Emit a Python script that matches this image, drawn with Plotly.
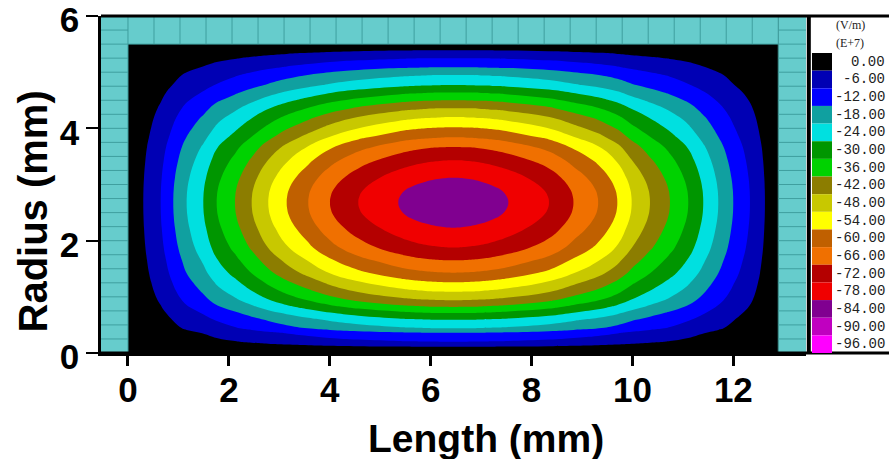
import numpy as np
import plotly.graph_objects as go

# ---------------- data ----------------
# legend levels (V/m, E+7) and their colours
levels = [0, -6, -12, -18, -24, -30, -36, -42, -48, -54, -60, -66, -72, -78, -84, -90, -96]
level_labels = ["0.00", "-6.00", "-12.00", "-18.00", "-24.00", "-30.00", "-36.00", "-42.00",
                "-48.00", "-54.00", "-60.00", "-66.00", "-72.00", "-78.00", "-84.00", "-90.00", "-96.00"]
level_colors = ["#000000", "#0000b4", "#0000ff", "#10a0a0", "#00e0e0", "#009600", "#00d200",
                "#8c7d00", "#c8c800", "#ffff00", "#c06000", "#f07000", "#b40000", "#f00000",
                "#800090", "#c000c0", "#ff00ff"]

# field along the row through the centre (r ~ 2.68 mm): position (mm) -> E
row_x = [0.0, 0.303, 0.648, 0.898, 1.163, 1.493, 1.758, 2.121, 2.452, 2.781, 3.146, 3.574,
         4.004, 4.565, 5.358, 5.62, 5.9, 6.18, 6.45, 6.72, 7.0, 7.27, 7.54, 8.345, 8.83,
         9.32, 9.70, 9.984, 10.347, 10.743, 11.106, 11.403, 11.701, 11.998, 12.329, 12.626,
         12.89]
row_e = [0, -6, -12, -18, -24, -30, -36, -42, -48, -54, -60, -66, -72, -78, -84, -85.5, -86.6,
         -87.25, -87.5, -87.25, -86.6, -85.5, -84, -78, -72, -66, -60, -54, -48, -42, -36,
         -30, -24, -18, -12, -6, 0]

# field along the column through the centre (x ~ 6.45 mm): radius (mm) -> E
col_r = [0.0, 0.11, 0.20, 0.36, 0.44, 0.59, 0.71, 0.82, 0.94, 1.09, 1.26, 1.43, 1.65, 1.88,
         2.23, 2.45, 2.57, 2.68, 2.79, 2.91, 3.12, 3.43, 3.67, 3.84, 4.02, 4.20, 4.36, 4.50,
         4.64, 4.77, 4.95, 5.09, 5.25, 5.39, 5.50]
col_e = [0, -6, -12, -18, -24, -30, -36, -42, -48, -54, -60, -66, -72, -78, -84, -86.6, -87.3,
         -87.5, -87.3, -86.6, -84, -78, -72, -66, -60, -54, -48, -42, -36, -30, -24, -18, -12,
         -6, 0]
e_centre = -87.5

# cavity / wall geometry (mm)
cavity_length = 12.89
cavity_radius = 5.5
x_range = [-0.535, 13.44]
y_range = [0, 6.0005]
wall_cell_r = 0.25
wall_cells_top = 25

x_ticks = [0, 2, 4, 6, 8, 10, 12]
y_ticks = [0, 2, 4, 6]

# ---------------- build figure ----------------
z = np.outer(np.array(col_e), np.array(row_e)) / e_centre

nb = 16
cscale = []
for k in range(nb):
    c = level_colors[15 - k]
    lo = max(0.0, (k - 0.5) / 15)
    hi = min(1.0, (k + 0.5) / 15)
    cscale.append([lo, c])
    cscale.append([hi, c])

fig = go.Figure()
fig.add_trace(go.Contour(
    x=row_x, y=col_r, z=z,
    autocontour=False,
    contours=dict(start=-90.001, end=-6.001, size=6, coloring="fill", showlines=False),
    colorscale=cscale, showscale=False, line=dict(width=0, smoothing=1.3),
    hoverinfo="skip",
))

wall_fill = "#66cccc"
wall_line = "#3f9f9f"
shapes = []
for (x0, x1, y0, y1) in [(x_range[0], 0, 0, y_range[1]),
                         (cavity_length, x_range[1], 0, y_range[1]),
                         (0, cavity_length, cavity_radius, y_range[1])]:
    shapes.append(dict(type="rect", xref="x", yref="y", x0=x0, x1=x1, y0=y0, y1=y1,
                       fillcolor=wall_fill, line=dict(width=0), layer="below"))

gx, gy = [], []
r_edges = np.arange(wall_cell_r, 6.0, wall_cell_r)
for r in r_edges:
    gx += [x_range[0], 0, None, cavity_length, x_range[1], None]
    gy += [r, r, None, r, r, None]
for k in range(wall_cells_top + 1):
    xv = cavity_length * k / wall_cells_top
    gx += [xv, xv, None]
    gy += [cavity_radius, y_range[1], None]
gx += [0, 0, None, cavity_length, cavity_length, None, 0, cavity_length, None]
gy += [0, cavity_radius, None, 0, cavity_radius, None, cavity_radius, cavity_radius, None]
fig.add_trace(go.Scatter(x=gx, y=gy, mode="lines", line=dict(color=wall_line, width=1),
                         hoverinfo="skip", showlegend=False))

W, H = 889, 459
ml, mr, mt, mb = 101, 83, 16, 106
pw = W - ml - mr
ph = H - mt - mb
xr_end = (W - ml) / pw
shapes.append(dict(type="line", xref="paper", yref="paper", x0=0, x1=xr_end, y0=1, y1=1,
                   line=dict(color="black", width=3)))
shapes.append(dict(type="line", xref="paper", yref="paper", x0=0, x1=xr_end, y0=0, y1=0,
                   line=dict(color="black", width=3)))
shapes.append(dict(type="line", xref="paper", yref="paper", x0=1.004, x1=1.004, y0=0, y1=1,
                   line=dict(color="black", width=4)))


def px2x(p):
    return (p - ml) / pw


def py2y(p):
    return (H - mb - p) / ph


annotations = []
sw_top = 53.0
sw_h = (353.0 - sw_top) / len(levels)
for i, (lab, col) in enumerate(zip(level_labels, level_colors)):
    t = sw_top + i * sw_h
    shapes.append(dict(type="rect", xref="paper", yref="paper", x0=px2x(812), x1=px2x(832),
                       y0=py2y(t + sw_h), y1=py2y(t), fillcolor=col, line=dict(width=0)))
    annotations.append(dict(xref="paper", yref="paper", x=px2x(887), y=py2y(t + sw_h / 2),
                            xanchor="right", yanchor="middle", showarrow=False, text=lab,
                            font=dict(family="Liberation Mono, Courier New, monospace", size=14,
                                      color="#222")))
for txt, yy in [("(V/m)", 25), ("(E+7)", 43)]:
    annotations.append(dict(xref="paper", yref="paper", x=px2x(850), y=py2y(yy),
                            xanchor="center", yanchor="middle", showarrow=False, text=txt,
                            font=dict(family="Liberation Serif, Times New Roman, serif", size=12,
                                      color="#222")))

bold = dict(family="Arial, Liberation Sans, sans-serif", size=35, color="black", weight="bold")
annotations.append(dict(xref="paper", yref="paper", x=px2x(486.5), y=py2y(438),
                        xanchor="center", yanchor="middle", showarrow=False, text="Length (mm)",
                        font=dict(family="Arial, Liberation Sans, sans-serif", size=39,
                                  color="black", weight="bold")))
annotations.append(dict(xref="paper", yref="paper", x=px2x(32), y=py2y(211.5), textangle=-90,
                        xanchor="center", yanchor="middle", showarrow=False, text="Radius (mm)",
                        font=dict(family="Arial, Liberation Sans, sans-serif", size=40,
                                  color="black", weight="bold")))

fig.update_layout(
    width=W, height=H, margin=dict(l=ml, r=mr, t=mt, b=mb, pad=0, autoexpand=False),
    paper_bgcolor="white", plot_bgcolor="black",
    shapes=shapes, annotations=annotations, showlegend=False,
    xaxis=dict(range=x_range, tickvals=x_ticks, ticks="outside", ticklen=10, tickwidth=3,
               tickcolor="black", showline=True, linecolor="black", linewidth=3,
               showgrid=False, zeroline=False, tickfont=bold, fixedrange=True,
               automargin=False, ticklabelstandoff=-6),
    yaxis=dict(range=y_range, tickvals=y_ticks, ticks="outside", ticklen=12, tickwidth=2,
               tickcolor="black", showline=True, linecolor="black", linewidth=2.5,
               showgrid=False, zeroline=False, tickfont=bold, fixedrange=True,
               automargin=False, ticklabeloverflow="allow", ticklabelshift=4),
)

fig.write_html("out.html", config={"displayModeBar": False},
               post_script="document.body.style.margin='0';document.body.style.overflow='hidden';")
